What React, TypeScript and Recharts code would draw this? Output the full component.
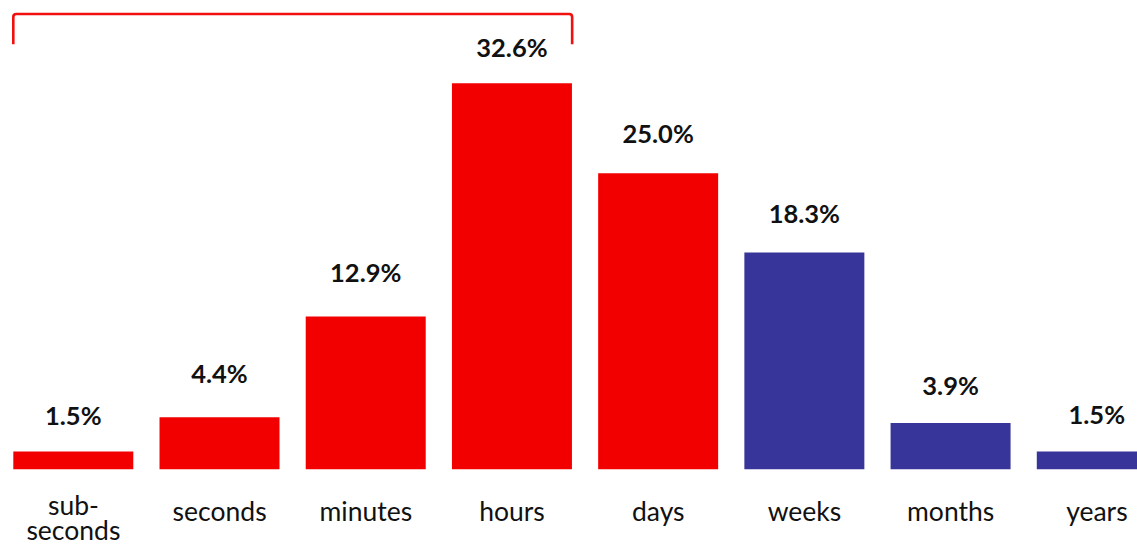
import React from 'react';
import { BarChart, Bar, XAxis, YAxis, Cell, LabelList, ReferenceArea } from 'recharts';

const categories = ['sub-seconds', 'seconds', 'minutes', 'hours', 'days', 'weeks', 'months', 'years'];
const values = [1.5, 4.4, 12.9, 32.6, 25.0, 18.3, 3.9, 1.5];
const tickLabels = [['sub-', 'seconds'], ['seconds'], ['minutes'], ['hours'], ['days'], ['weeks'], ['months'], ['years']];
const shortTerm = [true, true, true, true, true, false, false, false];
const bracketFrom = 'sub-seconds';
const bracketTo = 'hours';
const bracketRange = [35.9, 38.45];

// layout: distance in px between bar top and its value label baseline
const labelGaps = [26.7, 34.4, 34.4, 26.3, 30, 29.7, 27.7, 27.4];

const RED = '#F20000';
const BLUE = '#37359A';
const GAP = 13;
const TEXT = '#111111';
const FONT = 'Lato, "Open Sans", sans-serif';

const data = categories.map((c, i) => ({ name: c, value: values[i] }));

const Tick = (props: any) => {
  const { x, y, index } = props;
  const lines = tickLabels[index] || [];
  const style = { fontFamily: FONT, fontSize: 26.5, fill: TEXT };
  if (lines.length === 1) {
    return (
      <text x={x} y={y + 52} textAnchor="middle" style={style}>
        {lines[0]}
      </text>
    );
  }
  return (
    <text x={x} y={y + 45.5} textAnchor="middle" style={style}>
      {lines.map((l: string, i: number) => (
        <tspan key={i} x={x} dy={i === 0 ? 0 : 25}>
          {l}
        </tspan>
      ))}
    </text>
  );
};

const ValueLabel = (props: any) => {
  const vb = props.viewBox || props;
  const { x, y, width } = vb;
  const index = props.index ?? 0;
  const gap = labelGaps[index] ?? 28;
  return (
    <text
      x={x + width / 2}
      y={y - gap}
      textAnchor="middle"
      style={{ fontFamily: FONT, fontSize: 25.5, fontWeight: 700, fill: TEXT }}
    >
      {`${Number(props.value).toFixed(1)}%`}
    </text>
  );
};

const BracketShape = (props: any) => {
  const { x, y, width, height } = props;
  const l = x + GAP;
  const r = x + width - GAP;
  const t = y;
  const b = y + height;
  const rad = 3;
  const d = `M ${l} ${b} L ${l} ${t + rad} Q ${l} ${t} ${l + rad} ${t} L ${r - rad} ${t} Q ${r} ${t} ${r} ${t + rad} L ${r} ${b}`;
  return <path d={d} fill="none" stroke="#F01010" strokeWidth={2.6} />;
};

export default function App() {
  return (
    <div style={{ position: 'absolute', left: 0, top: 0, width: 1137, height: 545, overflow: 'hidden', background: '#fff' }}>
      <style>{`body{margin:0;overflow:hidden;background:#fff}`}</style>
      <BarChart
        width={1170}
        height={545}
        data={data}
        margin={{ top: 7.5, right: 0, bottom: 0, left: 0.3 }}
        barCategoryGap={GAP}
      >
        <XAxis
          dataKey="name"
          axisLine={false}
          tickLine={false}
          tickSize={0}
          tickMargin={0}
          height={75.7}
          interval={0}
          tick={<Tick />}
        />
        <YAxis hide domain={[0, 39]} />
        <ReferenceArea
          x1={bracketFrom}
          x2={bracketTo}
          y1={bracketRange[0]}
          y2={bracketRange[1]}
          shape={<BracketShape />}
          ifOverflow="visible"
        />
        <Bar dataKey="value" isAnimationActive={false}>
          {data.map((d, i) => (
            <Cell key={d.name} fill={shortTerm[i] ? RED : BLUE} />
          ))}
          <LabelList dataKey="value" content={<ValueLabel />} />
        </Bar>
      </BarChart>
    </div>
  );
}
